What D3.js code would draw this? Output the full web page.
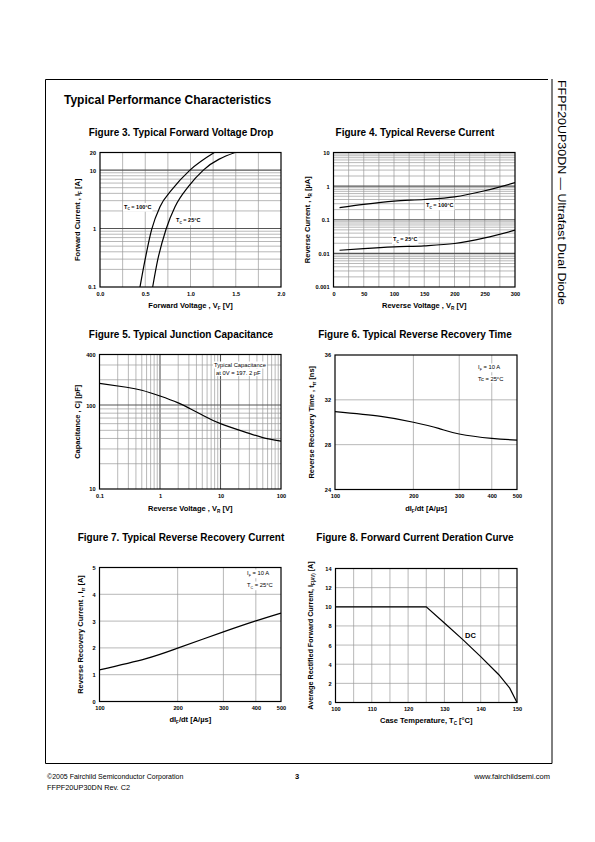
<!DOCTYPE html>
<html><head><meta charset="utf-8">
<script src="https://cdn.jsdelivr.net/npm/d3@7"></script>
<style>body{margin:0;background:#fff}svg{display:block}text{font-family:"Liberation Sans",Arial,Helvetica,sans-serif}</style>
</head><body><svg id="pg" width="595" height="842"></svg>
<script>
// ---------- DATA ----------
// Figure 3: forward voltage drop
const fig3Vf100 = [0.442, 0.497, 0.571, 0.663, 0.792, 0.994, 1.263];
const fig3If100 = [0.1, 0.287, 0.965, 2.36, 4.57, 10, 20];
const fig3Vf25  = [0.582, 0.637, 0.729, 0.829, 0.976, 1.142, 1.492];
const fig3If25  = [0.1, 0.287, 0.965, 2.36, 5.21, 10, 20];
const fig3XTicks = [0, 0.5, 1, 1.5, 2];
const fig3XLabels = ["0.0", "0.5", "1.0", "1.5", "2.0"];
const fig3YTicks = [0.1, 1, 10, 20];
const fig3YLabels = ["0.1", "1", "10", "20"];
// Figure 4: reverse current
const fig4Vr = [10, 50, 100, 150, 200, 250, 300];
const fig4Ir100 = [0.228, 0.287, 0.36, 0.40, 0.48, 0.73, 1.27];
const fig4Ir25  = [0.0124, 0.0139, 0.0156, 0.0168, 0.0197, 0.029, 0.049];
const fig4XTicks = [0, 50, 100, 150, 200, 250, 300];
const fig4YTicks = [0.001, 0.01, 0.1, 1, 10];
const fig4YLabels = ["0.001", "0.01", "0.1", "1", "10"];
// Figure 5: junction capacitance
const fig5Vr = [0.1, 0.28, 0.5, 1, 2, 3.1, 5, 10, 27, 50, 100];
const fig5Cj = [181, 163, 150, 128, 106, 91, 76, 60, 47, 41, 37.2];
const fig5XTicks = [0.1, 1, 10, 100];
const fig5XLabels = ["0.1", "1", "10", "100"];
const fig5YTicks = [10, 100, 400];
// Figure 6: reverse recovery time
const fig6Didt = [100, 150, 200, 250, 300, 400, 500];
const fig6Trr  = [30.94, 30.52, 30.0, 29.45, 28.95, 28.56, 28.41];
const fig6XTicks = [100, 200, 300, 400, 500];
const fig6YTicks = [24, 28, 32, 36];
// Figure 7: reverse recovery current
const fig7Didt = [100, 150, 200, 300, 400, 500];
const fig7Irr  = [1.18, 1.59, 1.99, 2.6, 3.01, 3.3];
const fig7XTicks = [100, 200, 300, 400, 500];
const fig7YTicks = [0, 1, 2, 3, 4, 5];
// Figure 8: forward current derating
const fig8Tc = [100, 125, 130, 135, 140, 145, 148, 150];
const fig8If = [10, 10, 8.3, 6.6, 4.8, 2.9, 1.5, 0];
const fig8XTicks = [100, 110, 120, 130, 140, 150];
const fig8YTicks = [0, 2, 4, 6, 8, 10, 12, 14];

// ---------- DRAWING ----------
const svg = d3.select("#pg");
const GRID = "#9a9a9a", MAJOR = "#555";
const AXT = 7.5;

function logMinor(domain) {
  const out = [];
  const lo = Math.floor(Math.log10(domain[0])), hi = Math.ceil(Math.log10(domain[1]));
  for (let e = lo; e <= hi; e++) for (let k = 1; k <= 9; k++) {
    const v = k * Math.pow(10, e);
    if (v > domain[0] * 1.0001 && v < domain[1] * 0.9999) out.push(v);
  }
  return out;
}
function rich(text, parts) {
  let pending = 0;
  parts.forEach(p => {
    const t = text.append("tspan");
    if (typeof p === "string") { t.text(p); if (pending) { t.attr("dy", -pending); pending = 0; } }
    else { t.text(p.t).attr("font-size", p.s || "0.62em").attr("dy", p.d - pending); pending = p.d; }
  });
}
function label(g, x, y, parts, opts = {}) {
  const t = g.append("text").attr("x", x).attr("y", y)
    .attr("font-size", opts.size || 5.5).attr("font-weight", opts.weight || "bold")
    .attr("fill", "#000");
  rich(t, parts);
  if (opts.bg) {
    const b = t.node().getBBox();
    g.insert("rect", () => t.node()).attr("x", b.x - 1).attr("y", b.y - 0.5)
      .attr("width", b.width + 2).attr("height", b.height + 1).attr("fill", "#fff");
  }
  return t;
}

function chart(c) {
  const g = svg.append("g");
  const xs = (c.xLog ? d3.scaleLog() : d3.scaleLinear()).domain(c.xDom).range([c.x0, c.x1]);
  const ys = (c.yLog ? d3.scaleLog() : d3.scaleLinear()).domain(c.yDom).range([c.y1, c.y0]);
  const gx = c.xLog ? logMinor(c.xDom) : c.xGrid;
  const gy = c.yLog ? logMinor(c.yDom) : c.yGrid;
  const isMaj = v => Math.abs(Math.log10(v) - Math.round(Math.log10(v))) < 1e-6;
  g.append("g").selectAll("line").data(gx).join("line")
    .attr("x1", d => xs(d)).attr("x2", d => xs(d)).attr("y1", c.y0).attr("y2", c.y1)
    .attr("stroke", d => (c.xLog && isMaj(d)) ? MAJOR : GRID)
    .attr("stroke-width", d => (c.xLog && isMaj(d)) ? 1.1 : 0.7);
  g.append("g").selectAll("line").data(gy).join("line")
    .attr("y1", d => ys(d)).attr("y2", d => ys(d)).attr("x1", c.x0).attr("x2", c.x1)
    .attr("stroke", d => (c.yLog && isMaj(d)) ? MAJOR : GRID)
    .attr("stroke-width", d => (c.yLog && isMaj(d)) ? 1.1 : 0.7);
  g.append("rect").attr("x", c.x0).attr("y", c.y0).attr("width", c.x1 - c.x0).attr("height", c.y1 - c.y0)
    .attr("fill", "none").attr("stroke", "#000").attr("stroke-width", 1.2);
  const ax = g.append("g").attr("transform", `translate(0,${c.y1})`)
    .call(d3.axisBottom(xs).tickValues(c.xTicks).tickSize(0).tickPadding(5)
      .tickFormat((d, i) => c.xLabels ? c.xLabels[i] : d));
  const ay = g.append("g").attr("transform", `translate(${c.x0},0)`)
    .call(d3.axisLeft(ys).tickValues(c.yTicks).tickSize(0).tickPadding(4)
      .tickFormat((d, i) => c.yLabels ? c.yLabels[i] : d));
  [ax, ay].forEach(a => {
    a.select(".domain").remove();
    a.attr("font-family", null).attr("font-size", null);
    a.selectAll("text").attr("font-size", 5.6).attr("font-weight", "bold").attr("fill", "#000");
  });
  ay.selectAll("text").attr("dy", "0.35em");
  (c.notes || []).forEach(n => label(g, n.x, n.y, n.parts, { size: n.size, weight: n.weight, bg: n.bg }));
  const line = d3.line().x(d => xs(d[0])).y(d => ys(d[1])).curve(c.curve || d3.curveMonotoneX);
  c.series.forEach(s => {
    g.append("path").attr("d", line(d3.zip(s[0], s[1]))).attr("fill", "none")
      .attr("stroke", "#000").attr("stroke-width", 1.2);
  });
  g.append("text").attr("x", c.titleX).attr("y", c.titleY).attr("text-anchor", "middle")
    .attr("font-size", 10).attr("font-weight", "bold").text(c.title);
  const xt = g.append("text").attr("x", (c.x0 + c.x1) / 2).attr("y", c.xTitleY).attr("text-anchor", "middle")
    .attr("font-size", AXT).attr("font-weight", "bold");
  rich(xt, c.xTitle);
  const yt = g.append("text").attr("transform", `translate(${c.yTitleX},${(c.y0 + c.y1) / 2}) rotate(-90)`)
    .attr("text-anchor", "middle").attr("font-size", c.yTitleSize || AXT).attr("font-weight", "bold");
  rich(yt, c.yTitle);
}

const sub = (t) => ({ t, d: 1.7 });

chart({
  x0: 100, x1: 281, y0: 152.5, y1: 287, xDom: [0, 2], yDom: [0.1, 20], yLog: true,
  xGrid: d3.range(0.25, 2, 0.25), xTicks: fig3XTicks, xLabels: fig3XLabels,
  yTicks: fig3YTicks, yLabels: fig3YLabels,
  series: [[fig3Vf100, fig3If100], [fig3Vf25, fig3If25]],
  notes: [
    { x: 124, y: 208.5, parts: ["T", sub("C"), " = 100°C"], bg: true },
    { x: 176, y: 222, parts: ["T", sub("C"), " = 25°C"], bg: true }
  ],
  title: "Figure 3. Typical Forward Voltage Drop", titleX: 181, titleY: 136,
  xTitle: ["Forward Voltage , V", sub("F"), " [V]"], xTitleY: 308,
  yTitle: ["Forward Current , I", sub("F"), " [A]"], yTitleX: 80
});

chart({
  x0: 333.5, x1: 515, y0: 152.5, y1: 287, xDom: [0, 300], yDom: [0.001, 10], yLog: true,
  xGrid: d3.range(25, 300, 25), xTicks: fig4XTicks,
  yTicks: fig4YTicks, yLabels: fig4YLabels,
  series: [[fig4Vr, fig4Ir100], [fig4Vr, fig4Ir25]],
  notes: [
    { x: 426, y: 207, parts: ["T", sub("C"), " = 100°C"], bg: true },
    { x: 393, y: 241, parts: ["T", sub("C"), " = 25°C"], bg: true }
  ],
  title: "Figure 4. Typical Reverse Current", titleX: 415, titleY: 136,
  xTitle: ["Reverse Voltage , V", sub("R"), " [V]"], xTitleY: 308,
  yTitle: ["Reverse Current , I", sub("R"), " [µA]"], yTitleX: 310
});

chart({
  x0: 99.5, x1: 281, y0: 354.5, y1: 489, xDom: [0.1, 100], yDom: [10, 400], xLog: true, yLog: true,
  xTicks: fig5XTicks, xLabels: fig5XLabels, yTicks: fig5YTicks,
  series: [[fig5Vr, fig5Cj]], curve: d3.curveNatural,
  notes: [
    { x: 214, y: 367, parts: ["Typical Capacitance"], weight: "normal", size: 5.8, bg: true },
    { x: 216, y: 374.5, parts: ["at  0V = 197. 2 pF"], weight: "normal", size: 5.8, bg: true }
  ],
  title: "Figure 5.  Typical Junction Capacitance", titleX: 181, titleY: 338,
  xTitle: ["Reverse Voltage , V", sub("R"), " [V]"], xTitleY: 511,
  yTitle: ["Capacitance , Cj [pF]"], yTitleX: 80
});

chart({
  x0: 335, x1: 517, y0: 355, y1: 489.5, xDom: [100, 500], yDom: [24, 36], xLog: true,
  yGrid: [28, 32], xTicks: fig6XTicks, yTicks: fig6YTicks,
  series: [[fig6Didt, fig6Trr]], curve: d3.curveNatural,
  notes: [
    { x: 478, y: 369, parts: ["I", sub("F"), " = 10 A"], weight: "normal", size: 5.8, bg: true },
    { x: 478, y: 381, parts: ["Tc = 25°C"], weight: "normal", size: 5.8, bg: true }
  ],
  title: "Figure 6. Typical Reverse Recovery Time", titleX: 415, titleY: 338,
  xTitle: ["dI", sub("F"), "/dt [A/µs]"], xTitleY: 511,
  yTitle: ["Reverse Recovery Time , t", sub("rr"), " [ns]"], yTitleX: 314
});

chart({
  x0: 99.5, x1: 281, y0: 567.5, y1: 701.5, xDom: [100, 500], yDom: [0, 5], xLog: true,
  yGrid: [1, 2, 3, 4], xTicks: fig7XTicks, yTicks: fig7YTicks,
  series: [[fig7Didt, fig7Irr]], curve: d3.curveNatural,
  notes: [
    { x: 247, y: 575, parts: ["I", sub("F"), " = 10 A"], weight: "normal", size: 5.8, bg: true },
    { x: 247, y: 587, parts: ["T", sub("C"), " = 25°C"], weight: "normal", size: 5.8, bg: true }
  ],
  title: "Figure 7. Typical Reverse Recovery Current", titleX: 181, titleY: 541,
  xTitle: ["dI", sub("F"), "/dt [A/µs]"], xTitleY: 722,
  yTitle: ["Reverse Recovery Current , I", sub("rr"), " [A]"], yTitleX: 83
});

chart({
  x0: 335.5, x1: 517, y0: 568.5, y1: 702.5, xDom: [100, 150], yDom: [0, 14],
  xGrid: d3.range(105, 150, 5), yGrid: d3.range(2, 14, 2), xTicks: fig8XTicks, yTicks: fig8YTicks,
  series: [[fig8Tc, fig8If]], curve: d3.curveLinear,
  notes: [{ x: 465, y: 637.5, parts: ["DC"], size: 7.5 }],
  title: "Figure 8. Forward Current Deration Curve", titleX: 415, titleY: 541,
  xTitle: ["Case Temperature, T", sub("C"), " [°C]"], xTitleY: 723,
  yTitle: ["Average Rectified Forward Current, I", sub("F(AV)"), " [A]"], yTitleX: 313, yTitleSize: 7.2
});

// ---------- PAGE ----------
svg.append("path").attr("d", "M548,79.5 H45.5 V763.5 H552 M552,79 V763.5")
  .attr("fill", "none").attr("stroke", "#000").attr("stroke-width", 1);
svg.append("text").attr("x", 64).attr("y", 104).attr("font-size", 12).attr("font-weight", "bold")
  .text("Typical Performance Characteristics");
svg.append("text").attr("transform", "translate(558,80) rotate(90)").attr("font-size", 11)
  .attr("textLength", 225).attr("lengthAdjust", "spacingAndGlyphs")
  .text("FFPF20UP30DN — Ultrafast Dual Diode");
svg.append("text").attr("x", 47).attr("y", 778.5).attr("font-size", 7).text("©2005 Fairchild Semiconductor Corporation");
svg.append("text").attr("x", 47).attr("y", 789.5).attr("font-size", 7.3).text("FFPF20UP30DN Rev. C2");
svg.append("text").attr("x", 297).attr("y", 778.5).attr("font-size", 7.5).attr("font-weight", "bold").attr("text-anchor", "middle").text("3");
svg.append("text").attr("x", 550).attr("y", 778.5).attr("font-size", 7.5).attr("text-anchor", "end").text("www.fairchildsemi.com");
</script></body></html>
